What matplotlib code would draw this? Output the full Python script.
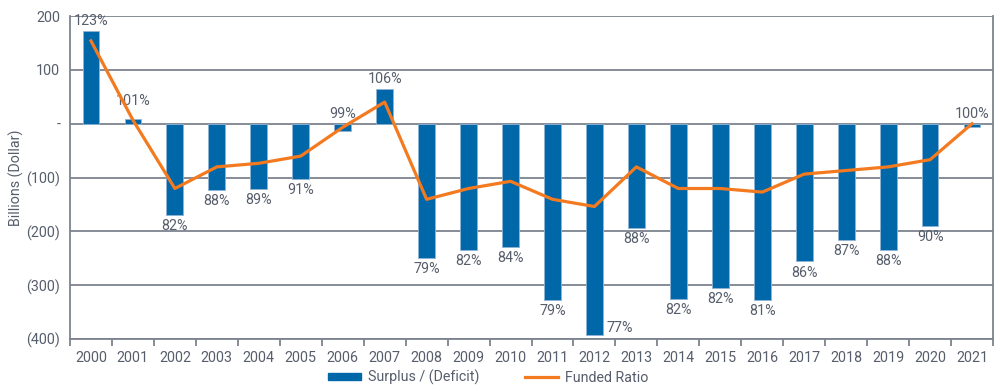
import matplotlib.pyplot as plt
from matplotlib.patches import Patch
from matplotlib.lines import Line2D

years = [str(y) for y in range(2000, 2022)]
surplus = [173, 9, -169, -123, -121, -102, -13, 65, -249, -234, -229,
           -327, -392, -193, -325, -305, -327, -256, -216, -234, -190, -6]
funded_ratio = [123, 101, 82, 88, 89, 91, 99, 106, 79, 82, 84,
                79, 77, 88, 82, 82, 81, 86, 87, 88, 90, 100]
ytick_vals = [200, 100, 0, -100, -200, -300, -400]
ytick_labels = ["200", "100", "-", "(100)", "(200)", "(300)", "(400)"]

BLUE = "#0067a9"
ORANGE = "#f47a20"
GRID = "#7d838e"
TEXT = "#565d6b"
FS = 10.3

plt.rcParams['font.family'] = ['Roboto', 'DejaVu Sans']

fig = plt.figure(figsize=(10, 3.91), dpi=100)
ax = fig.add_axes([0.07, 0.133, 0.923, 0.826])

x = list(range(len(years)))
ax.bar(x, surplus, width=0.4, color=BLUE, edgecolor="#8fb4d6", linewidth=0.6, zorder=2)

ax.set_xlim(-0.5, len(years) - 0.5)
ax.set_ylim(-400, 200)
ax.set_yticks(ytick_vals)
ax.set_yticklabels(ytick_labels)
ax.tick_params(axis='y', length=0, colors=TEXT, labelsize=FS, pad=7)
ax.set_xticks(x)
ax.set_xticklabels(years)
ax.tick_params(axis='x', length=0, colors=TEXT, labelsize=FS, pad=9)
ax.set_xticks([i - 0.5 for i in range(len(years) + 1)], minor=True)
ax.tick_params(axis='x', which='minor', length=5, width=1.3, color=GRID, direction='out')
ax.set_ylabel("Billions (Dollar)", color=TEXT, fontsize=FS, labelpad=2)
ax.yaxis.grid(True, color=GRID, linewidth=1.3, zorder=0)
ax.set_axisbelow(True)
for s in ['left', 'right', 'bottom']:
    ax.spines[s].set_color(GRID)
    ax.spines[s].set_linewidth(1.3)
ax.spines['top'].set_visible(False)

# funded ratio on hidden secondary axis, 100% sits on the zero line
k = 6.69
ax2 = ax.twinx()
ax2.set_ylim(100 - 400 / k, 100 + 200 / k)
ax2.plot(x, funded_ratio, color=ORANGE, linewidth=2.3, zorder=3)
ax2.set_yticks([])
for s in ax2.spines.values():
    s.set_visible(False)

for i, (v, r) in enumerate(zip(surplus, funded_ratio)):
    label = f"{r}%"
    if years[i] == "2012":
        ax.annotate(label, (i + 0.2, v), xytext=(3, 0), textcoords='offset points',
                    ha='left', va='bottom', color=TEXT, fontsize=FS)
    elif v > -20:
        off = 8 if years[i] == "2001" else 2
        ax.annotate(label, (i, max(v, 0)), xytext=(0, off), textcoords='offset points',
                    ha='center', va='bottom', color=TEXT, fontsize=FS)
    else:
        ax.annotate(label, (i, v), xytext=(0, -3), textcoords='offset points',
                    ha='center', va='top', color=TEXT, fontsize=FS)

handles = [Patch(color=BLUE), Line2D([0], [0], color=ORANGE, linewidth=2.3)]
fig.legend(handles, ["Surplus / (Deficit)", "Funded Ratio"], loc='center',
           bbox_to_anchor=(0.488, 0.035), ncol=2, frameon=False, fontsize=FS,
           labelcolor=TEXT, handlelength=2.3, handleheight=0.45, columnspacing=3.2,
           handletextpad=0.5)

fig.savefig("out.png", dpi=100)
